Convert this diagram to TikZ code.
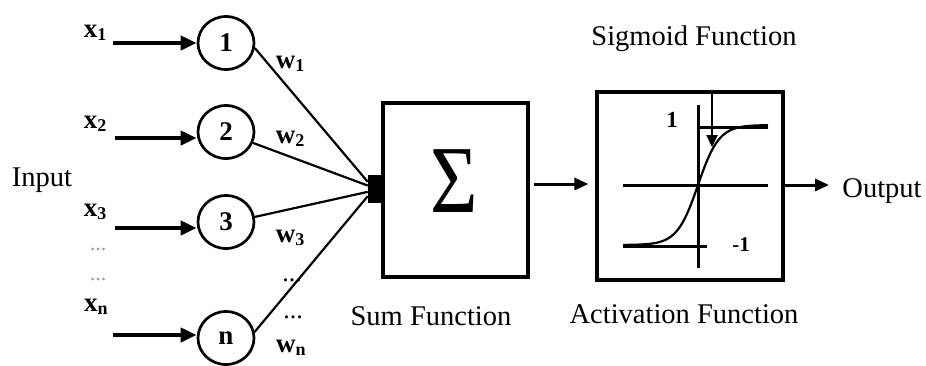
\documentclass[tikz,border=0pt]{standalone}
\usepackage{fontspec}
\setmainfont{Liberation Serif}
\usetikzlibrary{arrows.meta,shapes.geometric,calc}
\newcommand\sublab[2]{\textbf{#1}\raisebox{-3pt}{\fontsize{18}{18}\selectfont\bfseries #2}}
\begin{document}
\begin{tikzpicture}[x=1pt,y=-1pt,
  neuron/.style={ellipse,draw,line width=2.7pt,minimum width=56pt,minimum height=53pt,inner sep=0pt,font=\fontsize{27}{27}\selectfont\bfseries},
  inarrow/.style={line width=4pt,-{Triangle[length=16pt,width=14pt]}},
  midarrow/.style={line width=3pt,-{Triangle[length=14pt,width=12pt]}},
  wline/.style={line width=2.2pt},
  box/.style={draw,line width=3.2pt,inner sep=0pt},
  lab/.style={inner sep=0pt,anchor=base,font=\fontsize{27}{27}\selectfont},
  txt/.style={inner sep=0pt,anchor=base,font=\fontsize{28.5}{30}\selectfont},
  dots/.style={inner sep=0pt,anchor=center,font=\fontsize{26}{26}\selectfont},
  axis/.style={line width=3pt},
  curve/.style={line width=2.2pt}
]
\useasboundingbox (0,0) rectangle (926,365);

% input labels
\node[txt] (inp) at (42,186) {Input};
\node[lab] (lx1) at (95,37) {\sublab{x}{1}};
\node[lab] (lx2) at (95,128) {\sublab{x}{2}};
\node[lab] (lx3) at (95,216) {\sublab{x}{3}};
\node[lab] (lxn) at (96,311) {\sublab{x}{n}};
\node[dots,text=black!40,font=\fontsize{22}{22}\selectfont] (d1) at (98,250) {...};
\node[dots,text=black!40,font=\fontsize{22}{22}\selectfont] (d2) at (98,280) {...};

% neurons
\node[neuron] (c1) at (226,43) {1};
\node[neuron] (c2) at (226,132) {2};
\node[neuron] (c3) at (226,222) {3};
\node[neuron] (cn) at (226,338) {n};

% input arrows
\coordinate (s1) at (113,43);
\coordinate (s2) at (115,138);
\coordinate (s3) at (115,228);
\coordinate (sn) at (113,335);
\draw[inarrow] (s1) -- (s1 -| c1.west);
\draw[inarrow] (s2) -- (s2 -| c2.west);
\draw[inarrow] (s3) -- (s3 -| c3.west);
\draw[inarrow] (sn) -- (sn -| cn.west);

% junction and sum box
\node[fill=black,minimum width=14pt,minimum height=28pt,inner sep=0pt] (j) at (375,189) {};
\node[box,minimum width=145pt,minimum height=174pt] (sum) at (455.5,190) {};
\node[inner sep=0pt] (sig) at (454,181) {\scalebox{0.85}[1]{\fontsize{96}{96}\selectfont Σ}};

\draw[wline] (c1.-10) -- ($(j.north west)!0.25!(j.south west)$);
\draw[wline] (c2.-22) -- ($(j.north west)!0.38!(j.south west)$);
\draw[wline] (c3.10) -- ($(j.north west)!0.6!(j.south west)$);
\draw[wline] (cn.12) -- ($(j.north west)!0.75!(j.south west)$);

% weights
\node[lab] (w1) at (290,68) {\sublab{w}{1}};
\node[lab] (w2) at (290,143) {\sublab{w}{2}};
\node[lab] (w3) at (290,242) {\sublab{w}{3}};
\node[dots] (d3) at (292,280) {...};
\node[dots] (d4) at (293,317) {...};
\node[lab] (wn) at (291,352) {\sublab{w}{n}};

\node[txt] (sumlab) at (431,325) {Sum Function};

% activation box
\node[box,minimum width=186pt,minimum height=188pt] (act) at (690,186) {};
\draw[midarrow,shorten <=4pt,shorten >=7pt] (sum.east |- 0,184) -- (act.west |- 0,184);
\draw[axis] (623,185) -- (768,185);
\draw[axis] (698,105) -- (698,268);
\draw[axis] (700,127) -- (768,127);
\draw[axis] (623,246) -- (707,246);
\draw[curve] plot[domain=623:768,samples=90] (\x,{185-60*tanh((\x-698)/21)});
\draw[line width=2.4pt,-{Triangle[length=12pt,width=11pt]}] (712,92) -- (712,147);
\node[inner sep=0pt,font=\fontsize{23}{23}\selectfont\bfseries] (one) at (672,120) {1};
\node[inner sep=0pt,font=\fontsize{21}{21}\selectfont\bfseries] (mone) at (741,245) {-1};

\node[txt] (sigf) at (694,45) {Sigmoid Function};
\node[txt] (actf) at (684,323) {Activation Function};

% output
\coordinate (oend) at (829,185);
\draw[midarrow] (act.east |- oend) -- (oend);
\node[txt] (out) at (882,197) {Output};
\end{tikzpicture}
\end{document}
